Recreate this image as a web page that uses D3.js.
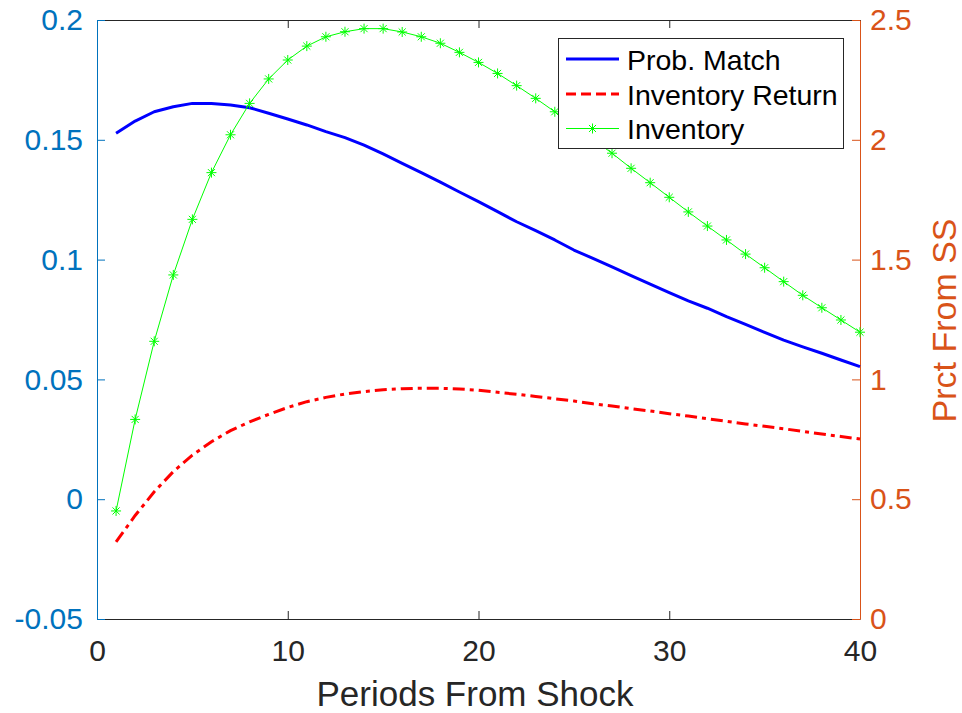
<!DOCTYPE html>
<html>
<head>
<meta charset="utf-8">
<script src="https://cdn.jsdelivr.net/npm/d3@7"></script>
<style>
  html, body { margin: 0; padding: 0; background: #fff; }
  svg { display: block; font-family: "Liberation Sans", Arial, Helvetica, sans-serif; }
</style>
</head>
<body>
<svg id="chart" width="962" height="713"></svg>
<script>
const periods = [1,2,3,4,5,6,7,8,9,10,11,12,13,14,15,16,17,18,19,20,21,22,23,24,25,26,27,28,29,30,31,32,33,34,35,36,37,38,39,40];
const probMatch = [0.1527,0.1578,0.1617,0.1638,0.1652,0.1651,0.1645,0.1634,0.1611,0.1587,0.1562,0.1534,0.1509,0.1478,0.1441,0.1402,0.1363,0.1323,0.1282,0.1242,0.1200,0.1158,0.1121,0.1082,0.1040,0.1005,0.0970,0.0933,0.0898,0.0862,0.0828,0.0797,0.0762,0.0730,0.0696,0.0664,0.0636,0.0609,0.0581,0.0553];
const invReturn = [-0.0178,-0.0068,0.0031,0.0115,0.0184,0.0240,0.0286,0.0323,0.0354,0.0383,0.0407,0.0425,0.0439,0.0449,0.0457,0.0461,0.0463,0.0463,0.0460,0.0455,0.0446,0.0438,0.0429,0.0419,0.0410,0.0398,0.0389,0.0378,0.0368,0.0357,0.0347,0.0336,0.0325,0.0314,0.0304,0.0294,0.0283,0.0272,0.0262,0.0251];
const inventory = [0.451,0.833,1.159,1.436,1.668,1.863,2.021,2.152,2.254,2.333,2.391,2.430,2.451,2.464,2.464,2.450,2.430,2.403,2.365,2.323,2.277,2.226,2.173,2.117,2.060,2.002,1.944,1.881,1.821,1.760,1.699,1.640,1.582,1.523,1.466,1.408,1.351,1.299,1.248,1.197];

const xTicks = [0,10,20,30,40];
const leftTicks = [-0.05,0,0.05,0.1,0.15,0.2];
const leftTickLabels = ["-0.05","0","0.05","0.1","0.15","0.2"];
const rightTicks = [0,0.5,1,1.5,2,2.5];
const rightTickLabels = ["0","0.5","1","1.5","2","2.5"];
const seriesNames = ["Prob. Match","Inventory Return","Inventory"];
const xLabel = "Periods From Shock";
const rightLabel = "Prct From SS";

const M = {left: 97, right: 860, top: 20, bottom: 619};
const axGray = "#262626", leftCol = "#0072BD", rightCol = "#D95319";

const svg = d3.select("#chart");
const x = d3.scaleLinear().domain([0,40]).range([M.left, M.right]);
const yL = d3.scaleLinear().domain([-0.05,0.2]).range([M.bottom, M.top]);
const yR = d3.scaleLinear().domain([0,2.5]).range([M.bottom, M.top]);

function styleAxis(g, col, fs) {
  g.selectAll("path.domain").attr("stroke", col).attr("stroke-width", 1);
  g.selectAll(".tick line").attr("stroke", col).attr("stroke-width", 1);
  g.selectAll(".tick text").attr("fill", col).style("font-size", fs + "px")
    .style("font-family", "'Liberation Sans', Arial, Helvetica, sans-serif");
}

const gTop = svg.append("g").attr("transform", `translate(0,${M.top})`)
  .call(d3.axisTop(x).tickValues(xTicks).tickSizeInner(-8).tickSizeOuter(0).tickFormat(""));
styleAxis(gTop, axGray, 30);

const gBottom = svg.append("g").attr("transform", `translate(0,${M.bottom})`)
  .call(d3.axisBottom(x).tickValues(xTicks).tickSizeInner(-8).tickSizeOuter(0).tickPadding(21).tickFormat(d3.format("d")));
styleAxis(gBottom, axGray, 30);

const gLeft = svg.append("g").attr("transform", `translate(${M.left},0)`)
  .call(d3.axisLeft(yL).tickValues(leftTicks).tickSizeInner(-8).tickSizeOuter(0).tickPadding(14)
    .tickFormat((d,i) => leftTickLabels[i]));
styleAxis(gLeft, leftCol, 30);

const gRight = svg.append("g").attr("transform", `translate(${M.right},0)`)
  .call(d3.axisRight(yR).tickValues(rightTicks).tickSizeInner(-8).tickSizeOuter(0).tickPadding(10)
    .tickFormat((d,i) => rightTickLabels[i]));
styleAxis(gRight, rightCol, 30);

svg.append("text").attr("x", 475).attr("y", 706)
  .attr("text-anchor", "middle").attr("fill", axGray).style("font-size", "35px").text(xLabel);
svg.append("text").attr("transform", `translate(956,${(M.top + M.bottom) / 2 + 1}) rotate(-90)`)
  .attr("text-anchor", "middle").attr("fill", rightCol).style("font-size", "34px").text(rightLabel);

const lineL = (arr) => d3.line().x((d,i) => x(periods[i])).y(d => yL(d))(arr);
const lineR = (arr) => d3.line().x((d,i) => x(periods[i])).y(d => yR(d))(arr);

svg.append("path").attr("d", lineL(probMatch)).attr("fill", "none")
  .attr("stroke", "#0000FF").attr("stroke-width", 3).attr("stroke-linejoin", "round");
svg.append("path").attr("d", lineL(invReturn)).attr("fill", "none")
  .attr("stroke", "#FF0000").attr("stroke-width", 3).attr("stroke-dasharray", "12,5,4,5");
svg.append("path").attr("d", lineR(inventory)).attr("fill", "none")
  .attr("stroke", "#00FF00").attr("stroke-width", 1);

function asterisk(cx, cy, r) {
  const d = r * Math.SQRT1_2;
  return `M${cx-r},${cy}L${cx+r},${cy}M${cx},${cy-r}L${cx},${cy+r}` +
         `M${cx-d},${cy-d}L${cx+d},${cy+d}M${cx-d},${cy+d}L${cx+d},${cy-d}`;
}
svg.append("g").selectAll("path").data(inventory).join("path")
  .attr("d", (d,i) => asterisk(x(periods[i]), yR(d), 5))
  .attr("stroke", "#00FF00").attr("stroke-width", 1).attr("fill", "none");

const leg = svg.append("g");
leg.append("rect").attr("x", 558.5).attr("y", 38.5).attr("width", 285).attr("height", 110)
  .attr("fill", "#fff").attr("stroke", axGray).attr("stroke-width", 1);
const rowsY = [59, 94, 128.5];
const styles = [
  {c: "#0000FF", w: 3, dash: null, marker: false},
  {c: "#FF0000", w: 3, dash: "10,5", marker: false},
  {c: "#00FF00", w: 1, dash: null, marker: true}
];
seriesNames.forEach((name, i) => {
  const s = styles[i], yy = rowsY[i];
  leg.append("line").attr("x1", 566).attr("x2", 619).attr("y1", yy).attr("y2", yy)
    .attr("stroke", s.c).attr("stroke-width", s.w).attr("stroke-dasharray", s.dash);
  if (s.marker) leg.append("path").attr("d", asterisk(592.5, yy, 5)).attr("stroke", s.c).attr("fill", "none");
  leg.append("text").attr("x", 627).attr("y", yy + 10.5).attr("fill", "#000")
    .style("font-size", "28.5px").text(name);
});
</script>
</body>
</html>
